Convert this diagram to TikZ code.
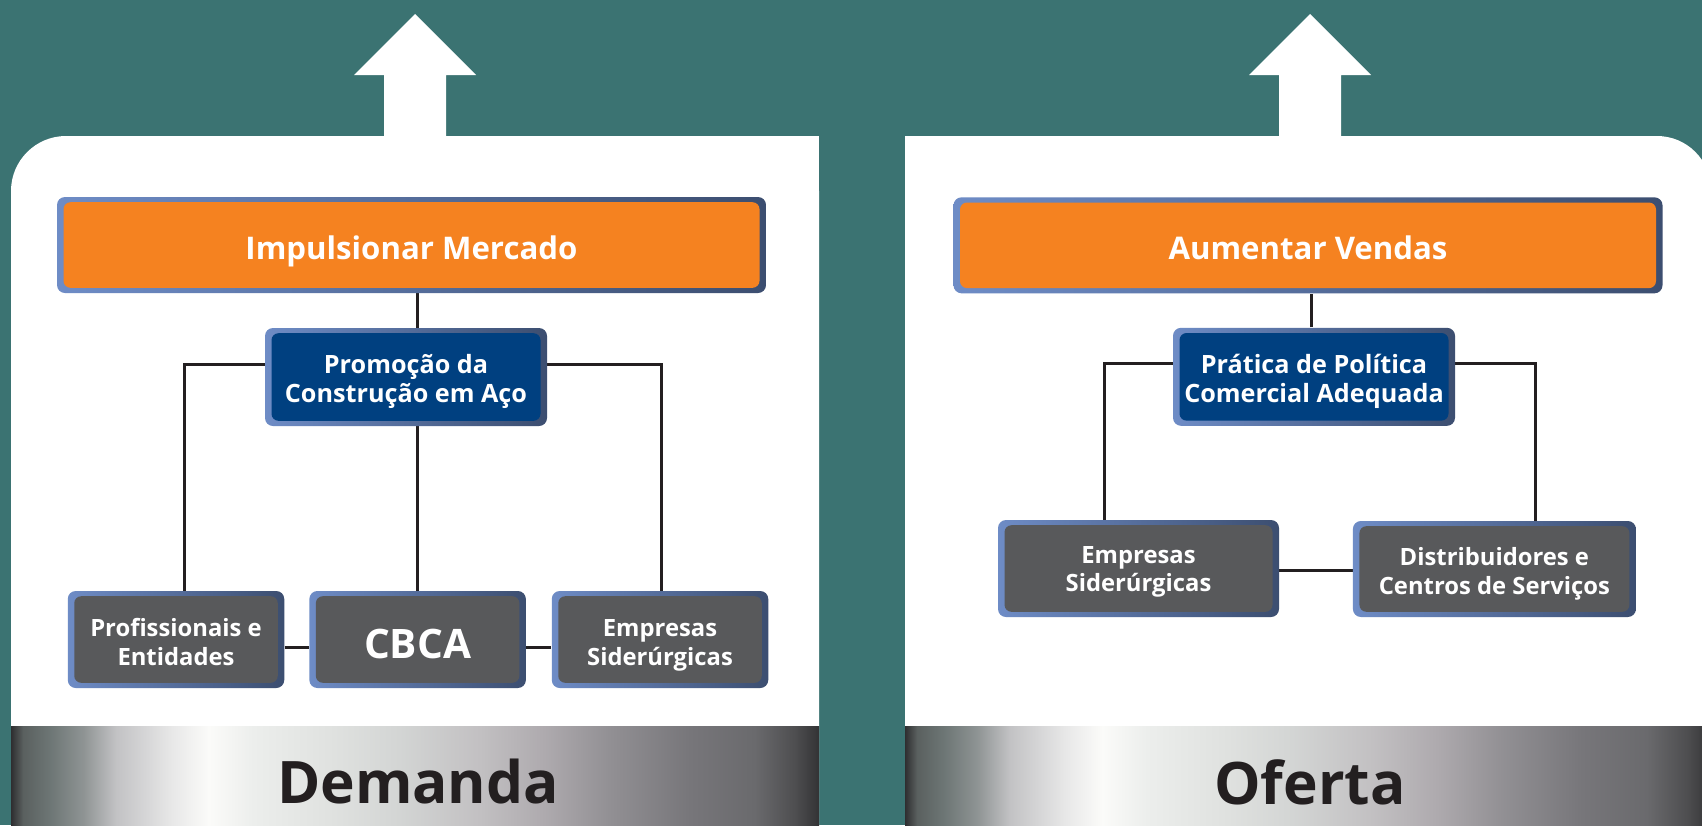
\documentclass[tikz,border=0pt]{standalone}
\usepackage{fontspec}
\setmainfont{Open Sans}
\usetikzlibrary{calc}
\definecolor{tealbg}{RGB}{59,115,114}
\definecolor{orangefill}{RGB}{245,130,32}
\definecolor{navyfill}{RGB}{0,64,128}
\definecolor{grayfill}{RGB}{88,89,91}
\definecolor{bordL}{RGB}{110,140,198}
\definecolor{bordR}{RGB}{60,78,112}
\definecolor{linecol}{RGB}{35,31,32}
\definecolor{textdark}{RGB}{35,31,32}
\definecolor{ba}{HTML}{2E2E30}
\definecolor{bb}{HTML}{5A605F}
\definecolor{bc}{HTML}{6E7776}
\definecolor{bd}{HTML}{8F9494}
\definecolor{be}{HTML}{C2C2C4}
\definecolor{bf}{HTML}{E8E8E8}
\definecolor{bg}{HTML}{FBFBF9}
\definecolor{bh}{HTML}{ECEEEC}
\definecolor{bi}{HTML}{DFE1DF}
\definecolor{bj}{HTML}{D3D5D4}
\definecolor{bk}{HTML}{C2C0C2}
\definecolor{bl}{HTML}{AEAAAE}
\definecolor{bm}{HTML}{929094}
\definecolor{bn}{HTML}{77767A}
\definecolor{bo}{HTML}{6A6A6D}
\definecolor{bp}{HTML}{4E4E50}
\definecolor{bq}{HTML}{333335}
\pgfdeclarehorizontalshading{bandshade}{100bp}{color(0bp)=(ba); color(25bp)=(ba);
 color(25.75bp)=(bb); color(27.5bp)=(bc); color(29.5bp)=(bd); color(31.5bp)=(be);
 color(35bp)=(bf); color(37.25bp)=(bg); color(40bp)=(bh); color(45bp)=(bi);
 color(49bp)=(bj); color(54bp)=(bk); color(58bp)=(bl); color(62bp)=(bm);
 color(67bp)=(bn); color(71bp)=(bo); color(73.5bp)=(bp); color(75bp)=(bq); color(100bp)=(bq)}
\pgfdeclarelayer{bglayer}
\pgfdeclarelayer{lines}
\pgfsetlayers{bglayer,lines,main}
% struts that place the text inside its box as in the reference
\newcommand{\myTop}[1]{\rule{0pt}{#1}}
\newcommand{\myBot}{\rule[-4pt]{0pt}{0pt}}
\tikzset{
  nbox/.style={rounded corners=4pt, left color=bordL, right color=bordR, inner sep=0pt,
    align=center, text=white},
  infill/.style={path picture={\fill[#1, rounded corners=3.5pt]
    ([shift={(3.25pt,-2.6pt)}]path picture bounding box.north west) rectangle
    ([shift={(-3.25pt,2.6pt)}]path picture bounding box.south east);}},
  goalbox/.style={nbox, infill=orangefill, minimum width=354.5pt, minimum height=48pt,
    font=\bfseries\fontsize{15.6pt}{18pt}\selectfont},
  midbox/.style={nbox, infill=navyfill, minimum width=141pt, minimum height=49pt,
    font=\bfseries\fontsize{12.6pt}{14.4pt}\selectfont},
  actbox/.style={nbox, infill=grayfill, minimum width=108.25pt, minimum height=48.5pt,
    font=\bfseries\fontsize{11.9pt}{14.4pt}\selectfont},
  bandtext/.style={text=textdark, inner sep=0pt, font=\bfseries\fontsize{29.3pt}{32pt}\selectfont},
  conn/.style={draw=linecol, line width=1.5pt},
  panel/.style={fill=white},
  uparrow/.style={fill=white},
}
\begin{document}
\begin{tikzpicture}[x=0.5pt,y=-0.5pt]
\useasboundingbox (0,0) rectangle (1702,825);
% ---------- nodes: left panel
\node[goalbox] (impL) at (411.5,245) {\myTop{18.3pt}Impulsionar Mercado\myBot};
\node[midbox] (promoL) at (406,377) {\myTop{15pt}Promoção da\\Construção em Aço\myBot};
\node[actbox] (profL) at (176,639.5) {\myTop{15.5pt}Profissionais e\\Entidades\myBot};
\node[actbox, font=\bfseries\fontsize{20.3pt}{22pt}\selectfont] (cbcaL) at (417.6,639.5) {\myTop{22.8pt}CBCA\myBot};
\node[actbox] (empL) at (660,639.5) {\myTop{15.5pt}Empresas\\Siderúrgicas\myBot};
% ---------- nodes: right panel
\node[goalbox] (impR) at (1308,245.3) {\myTop{18.3pt}Aumentar Vendas\myBot};
\node[midbox] (promoR) at (1314,376.8) {\myTop{15.5pt}Prática de Política\\Comercial Adequada\myBot};
\node[actbox, minimum width=140.5pt] (empR) at (1138.5,568.5) {\myTop{13pt}Empresas\\Siderúrgicas\myBot};
\node[actbox, minimum width=141.5pt, minimum height=48pt] (distR) at (1494.4,569) {\myTop{15pt}Distribuidores e\\Centros de Serviços\myBot};
% ---------- band labels
\node[bandtext] (demanda) at (418,782) {Demanda};
\node[bandtext] (oferta) at (1310,782) {Oferta};
% ---------- background layer
\begin{pgfonlayer}{bglayer}
\begin{scope}
\clip (0,0) rectangle (1702,825);
\fill[tealbg] (0,0) rectangle (1702,825);
\fill[panel, rounded corners=27.5pt] (11,136) rectangle (819,900);
\fill[panel] (120,136) rectangle (819,726);
\fill[panel, rounded corners=27pt] (905,136) rectangle (1711,900);
\fill[panel] (905,136) rectangle (1600,726);
\shade[shading=bandshade] (11,726) rectangle (819,825);
\shade[shading=bandshade] (905,726) rectangle (1711,825);
\fill[uparrow] (384,136) -- (384,75) -- (354,75) -- (415,14) -- (476,75) -- (446,75) -- (446,136) -- cycle;
\fill[uparrow] (1279,136) -- (1279,75) -- (1249,75) -- (1310,14) -- (1371,75) -- (1341,75) -- (1341,136) -- cycle;
\end{scope}
\end{pgfonlayer}
% ---------- connectors
\begin{pgfonlayer}{lines}
\coordinate (kLa) at ($(profL.north)+(8,0)$);
\coordinate (kLb) at ($(empL.north)+(1,0)$);
\draw[conn] (impL.south -| cbcaL.north) -- (promoL.north -| cbcaL.north);
\draw[conn] (promoL.south -| cbcaL.north) -- (cbcaL.north);
\draw[conn] ($(promoL.west)+(0,-13)$) -| (kLa);
\draw[conn] ($(promoL.east)+(0,-13)$) -| (kLb);
\draw[conn] ($(profL.east)+(0,7.5)$) -- ($(cbcaL.west)+(0,7.5)$);
\draw[conn] ($(cbcaL.east)+(0,7.5)$) -- ($(empL.west)+(0,7.5)$);
\coordinate (kRa) at ($(empR.north)+(-34.5,0)$);
\coordinate (kRb) at ($(distR.north)+(40.6,0)$);
\draw[conn] ($(promoR.north)+(-3,0)$) -- ($(promoR.north |- impR.south)+(-3,0)$);
\draw[conn] ($(promoR.west)+(0,-13)$) -| (kRa);
\draw[conn] ($(promoR.east)+(0,-13)$) -| (kRb);
\draw[conn] ($(empR.east)+(0,1.5)$) -- ($(distR.west)+(0,1)$);
\end{pgfonlayer}
\end{tikzpicture}
\end{document}
